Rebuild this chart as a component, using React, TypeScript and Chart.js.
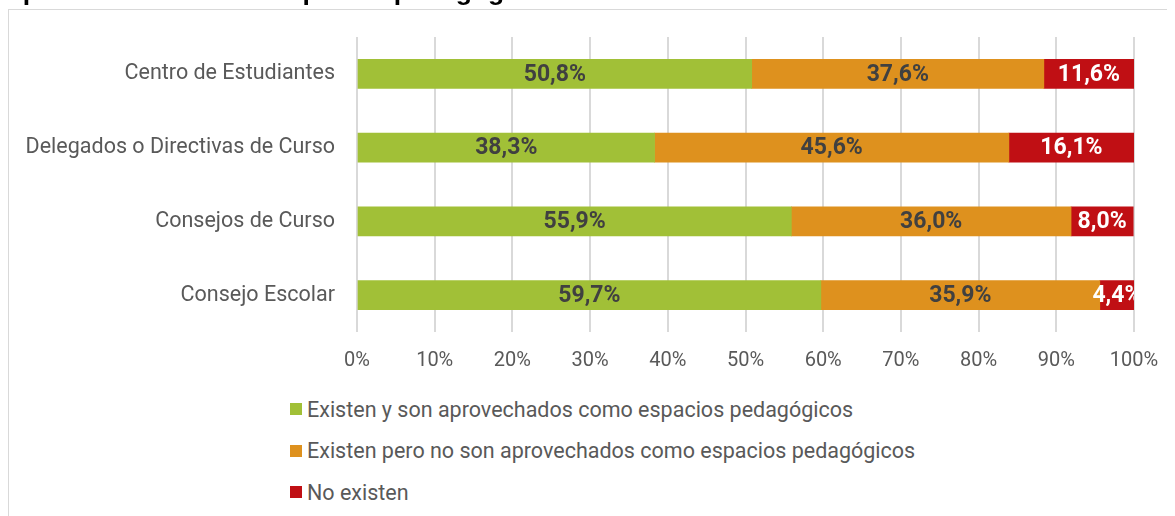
import React, { useEffect, useRef } from "react";
import { Chart, registerables } from "chart.js";

Chart.register(...registerables);

const titleTail = "aprovechados como espacios pedagógicos en su establecimiento";
const categories = [
  "Centro de Estudiantes",
  "Delegados o Directivas de Curso",
  "Consejos de Curso",
  "Consejo Escolar",
];
const seriesNames = [
  "Existen y son aprovechados como espacios pedagógicos",
  "Existen pero no son aprovechados como espacios pedagógicos",
  "No existen",
];
const aprovechados = [50.8, 38.3, 55.9, 59.7];
const noAprovechados = [37.6, 45.6, 36.0, 35.9];
const noExisten = [11.6, 16.1, 8.0, 4.4];
const xTickValues = [0, 10, 20, 30, 40, 50, 60, 70, 80, 90, 100];

const seriesColors = ["#A1C037", "#DE911E", "#C00F14"];
const labelColors = ["#404040", "#404040", "#FFFFFF"];

const fmt = (v: number) => v.toFixed(1).replace(".", ",") + "%";

const segLabels = {
  id: "segLabels",
  afterDatasetsDraw(chart: any) {
    const { ctx, chartArea } = chart;
    ctx.save();
    ctx.beginPath();
    ctx.rect(chartArea.left, chartArea.top, chartArea.right - chartArea.left, chartArea.bottom - chartArea.top);
    ctx.clip();
    ctx.font = "bold 23px Roboto";
    ctx.textAlign = "center";
    ctx.textBaseline = "middle";
    chart.data.datasets.forEach((ds: any, di: number) => {
      const meta = chart.getDatasetMeta(di);
      meta.data.forEach((el: any, i: number) => {
        const { x, base, y } = el.getProps(["x", "base", "y"], true);
        ctx.fillStyle = labelColors[di];
        ctx.fillText(fmt(ds.data[i]), (x + base) / 2, y + 1);
      });
    });
    ctx.restore();
  },
};

function ChartCanvas() {
  const ref = useRef<HTMLCanvasElement | null>(null);
  useEffect(() => {
    if (!ref.current) return;
    const series = [aprovechados, noAprovechados, noExisten];
    const chart = new Chart(ref.current, {
      type: "bar",
      data: {
        labels: categories,
        datasets: series.map((d, i) => ({
          label: seriesNames[i],
          data: d,
          backgroundColor: seriesColors[i],
          barThickness: 29,
        })),
      },
      options: {
        indexAxis: "y",
        responsive: false,
        animation: false,
        layout: { padding: { top: 27, right: 41, left: 0, bottom: 0 } },
        plugins: { legend: { display: false }, tooltip: { enabled: false }, title: { display: false } },
        scales: {
          x: {
            stacked: true,
            min: 0,
            max: 100,
            afterBuildTicks: (scale: any) => {
              scale.ticks = xTickValues.map((v) => ({ value: v }));
            },
            afterFit: (scale: any) => {
              scale.height = 58;
              scale.paddingLeft = 0;
              scale.paddingRight = 0;
            },
            grid: { color: "#D9D9D9", lineWidth: 2, drawTicks: false },
            border: { display: false },
            ticks: {
              padding: 17,
              color: "#595959",
              font: { family: "Roboto", size: 20 },
              callback: (v: any) => v + "%",
            },
          },
          y: {
            stacked: true,
            afterFit: (scale: any) => {
              scale.width = 348;
              scale.paddingTop = 0;
              scale.paddingBottom = 0;
            },
            grid: { display: false, drawTicks: false },
            border: { display: false },
            ticks: {
              padding: 22,
              color: "#595959",
              font: { family: "Roboto", size: 21.5 },
            },
          },
        },
      },
      plugins: [segLabels],
    });
    return () => chart.destroy();
  }, []);
  return <canvas ref={ref} width={1166} height={380} style={{ width: 1166, height: 380, display: "block" }} />;
}

export default function App() {
  useEffect(() => {
    document.documentElement.style.overflow = "hidden";
    document.body.style.overflow = "hidden";
  }, []);
  const legendTop0 = 409 - 10;
  const legendStep = 41.5;
  return (
    <div style={{ position: "relative" }}>
      <div
        style={{
          position: "fixed",
          left: 8,
          top: -22.5,
          zIndex: 10,
          fontFamily: "'Liberation Sans', Arial, sans-serif",
          fontWeight: "bold",
          fontSize: 26.5,
          lineHeight: "26px",
          color: "#000",
          whiteSpace: "nowrap",
        }}
      >
        {titleTail}
      </div>
      <div
        style={{
          position: "relative",
          marginTop: 1,
          width: 1166,
          height: 520,
          borderLeft: "1px solid #D9D9D9",
          borderTop: "1px solid #D9D9D9",
          background: "#fff",
        }}
      >
        <ChartCanvas />
        {seriesNames.map((name, i) => (
          <div
            key={name}
            style={{
              position: "absolute",
              left: 281,
              top: legendTop0 + i * legendStep - 12,
              height: 24,
              display: "flex",
              alignItems: "center",
              fontFamily: "Roboto",
              fontSize: 21.5,
              color: "#595959",
              whiteSpace: "nowrap",
            }}
          >
            <span style={{ display: "inline-block", width: 12, height: 12, background: seriesColors[i], marginRight: 5 }} />
            <span>{name}</span>
          </div>
        ))}
      </div>
    </div>
  );
}
